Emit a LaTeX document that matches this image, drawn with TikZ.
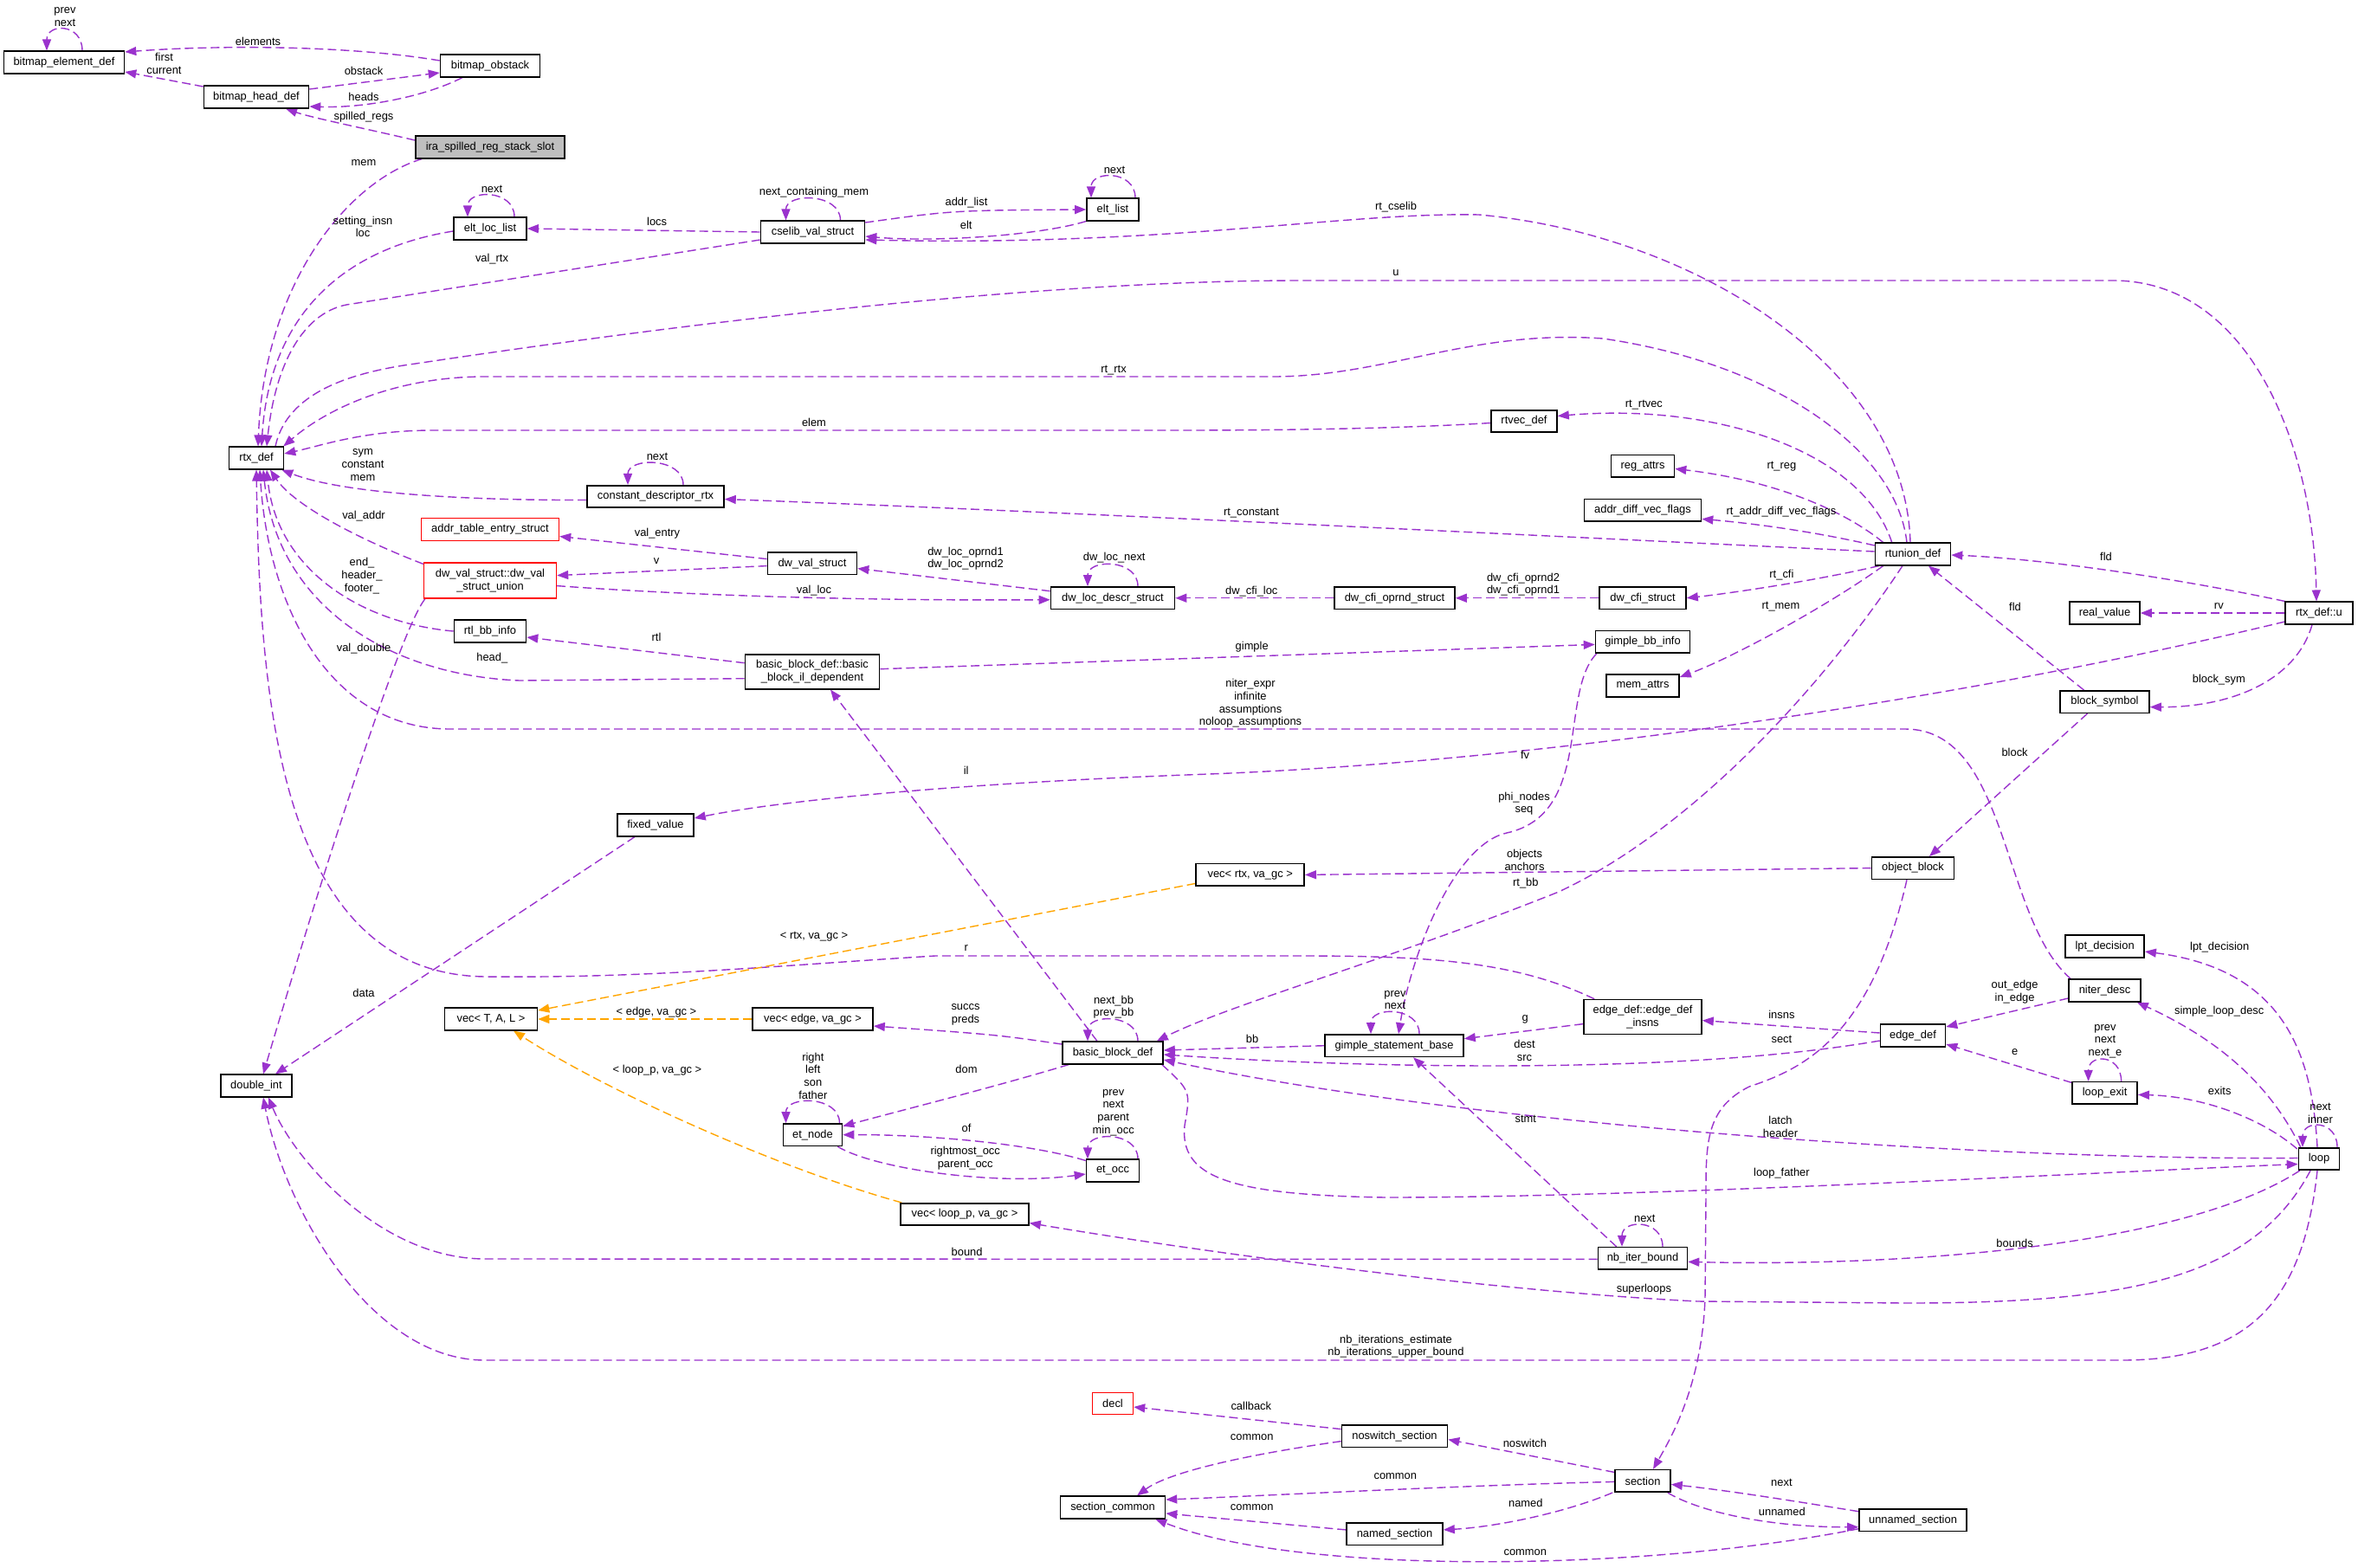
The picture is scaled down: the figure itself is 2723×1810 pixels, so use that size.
\documentclass[tikz,border=0pt]{standalone}
\usepackage{fontspec}
\setmainfont{Liberation Sans}
\usetikzlibrary{calc,arrows.meta}
\definecolor{purp}{HTML}{9A32CD}
\definecolor{orng}{HTML}{FFA500}
\definecolor{gfill}{HTML}{BFBFBF}
\pgfdeclarelayer{bg}
\pgfsetlayers{bg,main}
\begin{document}
\begin{tikzpicture}[x=1pt,y=-1pt,
  every node/.style={font=\fontsize{12.9}{14.6}\selectfont},
  box/.style={draw=black,line width=1.6pt,fill=white,minimum height=25.5pt,inner sep=0pt,align=center},
  redbox/.style={box,draw=red,line width=1.4pt},
  lbl/.style={inner sep=0pt,align=center},
  rel/.style={draw=purp,line width=1.4pt,dash pattern=on 10pt off 5pt,-{Triangle[length=13pt,width=10pt]}},
  tmpl/.style={draw=orng,line width=1.4pt,dash pattern=on 10pt off 5pt,-{Triangle[length=13pt,width=10pt]}}]
\useasboundingbox (0,0) rectangle (2723,1810);
% ---------------- nodes
\node[box,minimum width=139pt] (bee) at (74,72) {bitmap\_element\_def};
\node[box,minimum width=115pt] (bob) at (566,76) {bitmap\_obstack};
\node[box,minimum width=121pt] (bhd) at (296,112) {bitmap\_head\_def};
\node[box,fill=gfill,minimum width=172pt] (ira) at (566,170) {ira\_spilled\_reg\_stack\_slot};
\node[box,minimum width=84pt] (ell) at (566,264) {elt\_loc\_list};
\node[box,minimum width=63pt] (rtx) at (296,529) {rtx\_def};
\node[box,minimum width=158pt] (cdr) at (757,573.5) {constant\_descriptor\_rtx};
\node[redbox,minimum width=159pt] (ate) at (566,611.5) {addr\_table\_entry\_struct};
\node[redbox,minimum width=153pt,minimum height=41pt] (dvu) at (566,670.6) {dw\_val\_struct::dw\_val\\\_struct\_union};
\node[box,minimum width=83pt] (rbi) at (566,729) {rtl\_bb\_info};
\node[box,minimum width=107pt] (vtal) at (567,1177) {vec< T, A, L >};
\node[box,minimum width=82pt] (di) at (296,1254) {double\_int};
\node[box,minimum width=120pt] (csv) at (938.5,268) {cselib\_val\_struct};
\node[box,minimum width=60pt] (el) at (1285,242) {elt\_list};
\node[box,minimum width=103pt] (dvs) at (938,650.6) {dw\_val\_struct};
\node[box,minimum width=143pt] (dld) at (1285,690.7) {dw\_loc\_descr\_struct};
\node[box,minimum width=155pt,minimum height=40pt] (bbil) at (938,775.7) {basic\_block\_def::basic\\\_block\_il\_dependent};
\node[box,minimum width=88pt] (fv) at (757,953) {fixed\_value};
\node[box,minimum width=139pt] (ve) at (938.5,1177) {vec< edge, va\_gc >};
\node[box,minimum width=116pt] (bbd) at (1285,1216) {basic\_block\_def};
\node[box,minimum width=68pt] (etn) at (938.5,1310.7) {et\_node};
\node[box,minimum width=61pt] (eto) at (1285,1352) {et\_occ};
\node[box,minimum width=148pt] (vl) at (1114,1402.5) {vec< loop\_p, va\_gc >};
\node[redbox,minimum width=47pt] (decl) at (1285,1621) {decl};
\node[box,minimum width=121pt] (sc) at (1285,1741) {section\_common};
\node[box,minimum width=139pt] (dcos) at (1610.5,690.7) {dw\_cfi\_oprnd\_struct};
\node[box,minimum width=100pt] (dcs) at (1897,690.7) {dw\_cfi\_struct};
\node[box,minimum width=109pt] (gbi) at (1897,741.4) {gimple\_bb\_info};
\node[box,minimum width=84pt] (ma) at (1897,792) {mem\_attrs};
\node[box,minimum width=125pt] (vr) at (1443.7,1010.4) {vec< rtx, va\_gc >};
\node[box,minimum width=136pt,minimum height=40pt] (edi) at (1897,1174.6) {edge\_def::edge\_def\\\_insns};
\node[box,minimum width=160pt] (gsb) at (1610,1207.7) {gimple\_statement\_base};
\node[box,minimum width=76pt] (rtv) at (1760,486.5) {rtvec\_def};
\node[box,minimum width=73pt] (ra) at (1897,538.4) {reg\_attrs};
\node[box,minimum width=135pt] (adv) at (1897,589.4) {addr\_diff\_vec\_flags};
\node[box,minimum width=87pt] (rtu) at (2209,640) {rtunion\_def};
\node[box,minimum width=81pt] (rv) at (2430.5,708) {real\_value};
\node[box,minimum width=77.5pt] (rdu) at (2678,708) {rtx\_def::u};
\node[box,minimum width=103pt] (bs) at (2430.5,810.6) {block\_symbol};
\node[box,minimum width=95pt] (ob) at (2209,1002.6) {object\_block};
\node[box,minimum width=91pt] (lpt) at (2430.6,1093) {lpt\_decision};
\node[box,minimum width=83pt] (nd) at (2430.5,1144) {niter\_desc};
\node[box,minimum width=75pt] (ed) at (2209,1196) {edge\_def};
\node[box,minimum width=75pt] (le) at (2430.6,1262.4) {loop\_exit};
\node[box,minimum width=47pt] (loop) at (2678,1338.5) {loop};
\node[box,minimum width=124pt] (us) at (2209,1755.7) {unnamed\_section};
\node[box,minimum width=103pt] (nib) at (1897,1453.4) {nb\_iter\_bound};
\node[box,minimum width=122pt] (ns) at (1610.5,1658.6) {noswitch\_section};
\node[box,minimum width=64pt] (sec) at (1897,1710.4) {section};
\node[box,minimum width=111pt] (nms) at (1610.5,1771.9) {named\_section};
% ---------------- edges
\begin{pgfonlayer}{bg}
\fill[white] (0,0) rectangle (2723,1810);
% bitmap group
\draw[rel] ([xshift=21pt]bee.north) .. controls +(0,-32) and +(0,-32) .. ([xshift=-20pt]bee.north);
\draw[rel] ($(bob.west)+(0,-6)$) .. controls (400,52) and (250,52) .. ($(bee.east)+(0,-12)$);
\draw[rel] ($(bhd.west)+(0,-12)$) -- ($(bee.east)+(0,11)$);
\draw[rel] ($(bhd.east)+(0,-9)$) -- ($(bob.west)+(0,8)$);
\draw[rel] ($(bob.south)+(-32,0)$) .. controls (490,112) and (420,125) .. ($(bhd.east)+(0,11)$);
\draw[rel] ($(ira.west)+(0,-8)$) .. controls (420,148) and (360,136) .. ($(bhd.south)+(34,0)$);
\draw[rel] ($(ira.south west)+(8,0)$) .. controls (400,210) and (305,330) .. ($(rtx.north)+(2,0)$);
% elt_loc_list, cselib
\draw[rel] ([xshift=28pt]ell.north) .. controls +(0,-32) and +(0,-32) .. ([xshift=-26pt]ell.north);
\draw[rel] ($(ell.west)+(0,3)$) .. controls (380,290) and (310,380) .. ($(rtx.north)+(6,0)$);
\draw[rel] (csv.west) -- (ell.east);
\draw[rel] ($(csv.west)+(0,9)$) -- (400,352) .. controls (350,362) and (318,420) .. ($(rtx.north)+(12,0)$);
\draw[rel] ([xshift=32pt]csv.north) .. controls +(0,-32) and +(0,-32) .. ([xshift=-31pt]csv.north);
\draw[rel] ($(csv.east)+(0,-11)$) .. controls (1100,243) .. (el.west);
\draw[rel] ([xshift=26pt]el.north) .. controls +(0,-32) and +(0,-32) .. ([xshift=-25pt]el.north);
\draw[rel] (el.south west) .. controls (1200,272) and (1080,280) .. ($(csv.east)+(0,5)$);
% rtunion_def and rtx_def::u
\draw[rel] ($(rtu.north)+(-3,0)$) .. controls (2200,420) and (1950,270) .. (1708,248) .. controls (1550,245) and (1350,285) .. ($(csv.east)+(0,9)$);
\draw[rel] ($(rtx.north)+(22,0)$) .. controls (330,460) and (390,432) .. (480,420) .. controls (800,372) and (1200,324) .. (1500,324) -- (2440,324) .. controls (2600,324) and (2672,520) .. ($(rdu.north)+(-3,0)$);
\draw[rel] ($(rtu.north)+(-7,0)$) .. controls (2190,520) and (2050,420) .. (1851,391) .. controls (1700,380) and (1600,435) .. (1470,435) -- (560,435) .. controls (460,435) and (380,470) .. ($(rtx.north east)+(-1,0)$);
\draw[rel] ($(rtv.west)+(0,2)$) .. controls (1600,496) and (1450,497) .. (1360,497) -- (500,497) .. controls (420,497) and (370,515) .. ($(rtx.east)+(0,-5)$);
\draw[rel] ($(cdr.west)+(0,4)$) .. controls (560,578) and (400,572) .. ($(rtx.south east)+(-3,0)$);
\draw[rel] ([xshift=32pt]cdr.north) .. controls +(0,-32) and +(0,-32) .. ([xshift=-32pt]cdr.north);
\draw[rel] ($(rtu.west)+(0,-3)$) .. controls (1700,615) and (1200,590) .. ($(cdr.east)+(0,3)$);
\draw[rel] ($(rtu.north west)+(20,0)$) .. controls (2150,520) and (1980,465) .. ($(rtv.east)+(0,-6)$);
\draw[rel] ($(rtu.north west)+(10,0)$) .. controls (2130,590) and (2050,555) .. ($(ra.east)+(0,3)$);
\draw[rel] ($(rtu.west)+(0,-10)$) .. controls (2100,615) and (2030,605) .. ($(adv.east)+(0,10)$);
\draw[rel] ($(rtu.south west)+(5,0)$) .. controls (2100,670) and (2000,685) .. (dcs.east);
\draw[rel] ($(rtu.south west)+(10,0)$) .. controls (2110,700) and (2000,760) .. ($(ma.east)+(0,-10)$);
\draw[rel] ($(rtu.south)+(-12,0)$) .. controls (2100,800) and (1950,960) .. (1800,1030) .. controls (1600,1110) and (1420,1160) .. ($(bbd.north east)+(-8,0)$);
\draw[rel] (rdu.north west) .. controls (2500,665) and (2350,645) .. ($(rtu.east)+(0,1)$);
\draw[rel] (rdu.west) -- (rv.east);
\draw[rel] ($(rdu.south)+(-8,0)$) .. controls (2650,790) and (2570,817) .. ($(bs.east)+(0,6)$);
\draw[rel] ($(rdu.west)+(0,10)$) .. controls (2300,800) and (1800,880) .. (1380,894.6) .. controls (1100,905) and (900,925) .. ($(fv.east)+(0,-8)$);
\draw[rel] ($(bs.north)+(-24,0)$) -- ($(rtu.south)+(18,0)$);
\draw[rel] ($(bs.south)+(-20,0)$) -- ($(ob.north)+(19,0)$);
\draw[rel] (ob.west) -- (vr.east);
\draw[rel] ($(ob.south)+(-7,0)$) .. controls (2160,1200) and (2080,1235) .. (2020,1255) .. controls (1970,1280) and (1970,1320) .. (1970,1380) -- (1969,1500) .. controls (1965,1600) and (1930,1660) .. ($(sec.north)+(12,0)$);
% edge_def, loop area
\draw[rel] ($(ed.west)+(0,-3)$) -- ($(edi.east)+(0,4)$);
\draw[rel] ($(ed.west)+(0,6)$) .. controls (1950,1240) and (1600,1235) .. ($(bbd.east)+(0,2)$);
\draw[rel] ($(nd.west)+(0,9)$) -- ($(ed.east)+(0,-10)$);
\draw[rel] ($(le.west)+(0,-12)$) -- ($(ed.east)+(0,10)$);
\draw[rel] ([xshift=19pt]le.north) .. controls +(0,-32) and +(0,-32) .. ([xshift=-19pt]le.north);
\draw[rel] ($(loop.north west)+(-1,2)$) .. controls (2610,1290) and (2540,1266) .. ($(le.east)+(0,2)$);
\draw[rel] ($(loop.north west)+(3,0)$) .. controls (2620,1250) and (2560,1200) .. ($(nd.south east)+(-5,0)$);
\draw[rel] ($(loop.north)+(-2,0)$) .. controls (2670,1220) and (2640,1120) .. ($(lpt.east)+(0,6)$);
\draw[rel] ([xshift=21pt]loop.north) .. controls +(0,-32) and +(0,-32) .. ([xshift=-19pt]loop.north);
\draw[rel] ($(loop.west)+(0,-1)$) .. controls (2300,1340) and (1700,1300) .. ($(bbd.east)+(0,8)$);
\draw[rel] ($(bbd.south east)+(-2,0)$) .. controls (1375,1260) .. (1368,1300) .. controls (1362,1360) and (1420,1380) .. (1600,1383) .. controls (1900,1383) and (2400,1355) .. ($(loop.west)+(0,6)$);
\draw[rel] ($(loop.south west)+(2,0)$) .. controls (2520,1440) and (2200,1463) .. ($(nib.east)+(0,4)$);
\draw[rel] ($(loop.south)+(-10,0)$) .. controls (2600,1480) and (2450,1505) .. (2200,1505) -- (1960,1503) .. controls (1700,1490) and (1350,1440) .. ($(vl.east)+(0,10)$);
\draw[rel] ($(loop.south)+(-2,0)$) .. controls (2660,1500) and (2600,1571) .. (2450,1571) -- (560,1571) .. controls (430,1571) and (330,1400) .. ($(di.south)+(8,0)$);
\draw[rel] ($(nib.west)+(0,1)$) -- (560,1454) .. controls (440,1454) and (340,1340) .. ($(di.south)+(14,0)$);
\draw[rel] ([xshift=23pt]nib.north) .. controls +(0,-32) and +(0,-32) .. ([xshift=-24pt]nib.north);
\draw[rel] ($(nib.north west)+(22,0)$) -- ($(gsb.south)+(22,0)$);
% double_int, dw_ group
\draw[rel] ($(fv.south)+(-24,0)$) -- ($(di.north)+(22,0)$);
\draw[rel] ($(dvu.south west)+(2,0)$) .. controls (460,730) and (360,1050) .. ($(di.north)+(8,0)$);
\draw[rel] ($(dvu.north west)+(0,2)$) .. controls (420,625) and (340,585) .. ($(rtx.south)+(16,0)$);
\draw[rel] (rbi.west) .. controls (420,720) and (320,660) .. ($(rtx.south)+(12,0)$);
\draw[rel] ($(bbil.west)+(0,8)$) -- (600,786) .. controls (450,780) and (320,700) .. ($(rtx.south)+(8,0)$);
\draw[rel] ($(bbil.west)+(0,-10)$) -- ($(rbi.east)+(0,7)$);
\draw[rel] ($(bbd.north)+(-18,0)$) -- ($(bbil.south)+(21,0)$);
\draw[rel] ($(bbil.east)+(0,-3)$) -- ($(gbi.west)+(0,3)$);
\draw[rel] ($(gbi.south west)+(2,0)$) .. controls (1800,800) and (1840,940) .. (1740,962) .. controls (1680,975) and (1630,1100) .. ($(gsb.north)+(5,0)$);
\draw[rel] ([xshift=29pt]gsb.north) .. controls +(0,-32) and +(0,-32) .. ([xshift=-27pt]gsb.north);
\draw[rel] (gsb.west) -- ($(bbd.east)+(0,-3)$);
\draw[rel] ($(edi.west)+(0,8)$) -- ($(gsb.east)+(0,-8)$);
\draw[rel] ($(edi.north west)+(13,0)$) .. controls (1750,1110) and (1650,1104) .. (1500,1104) -- (1080,1104) .. controls (900,1115) and (750,1130) .. (560,1128) .. controls (320,1125) and (300,800) .. (rtx.south);
\draw[rel] ($(nd.north west)+(3,0)$) .. controls (2310,1060) and (2320,842) .. (2200,842) -- (520,842) .. controls (380,842) and (310,700) .. ($(rtx.south)+(4,0)$);
% vec templates
\draw[tmpl] ($(vr.west)+(0,10)$) -- ($(vtal.east)+(0,-10)$);
\draw[tmpl] (ve.west) -- (vtal.east);
\draw[tmpl] ($(vl.north west)+(2,0)$) .. controls (900,1350) and (700,1260) .. ($(vtal.south)+(26,0)$);
% basic_block_def, et
\draw[rel] ($(bbd.west)+(0,-10)$) .. controls (1150,1195) .. ($(ve.east)+(0,8)$);
\draw[rel] ([xshift=29pt]bbd.north) .. controls +(0,-32) and +(0,-32) .. ([xshift=-29pt]bbd.north);
\draw[rel] ($(bbd.south west)+(8,0)$) .. controls (1150,1255) and (1050,1280) .. ($(etn.east)+(0,-10)$);
\draw[rel] ([xshift=31pt]etn.north) .. controls +(0,-32) and +(0,-32) .. ([xshift=-31pt]etn.north);
\draw[rel] ($(eto.north west)+(0,2)$) .. controls (1180,1318) and (1050,1310) .. (etn.east);
\draw[rel] ($(etn.south east)+(-6,0)$) .. controls (1010,1350) and (1150,1370) .. ($(eto.west)+(0,4)$);
\draw[rel] ([xshift=29pt]eto.north) .. controls +(0,-32) and +(0,-32) .. ([xshift=-29pt]eto.north);
% dwarf
\draw[rel] ($(dld.west)+(0,-8)$) -- ($(dvs.east)+(0,6)$);
\draw[rel] ([xshift=29pt]dld.north) .. controls +(0,-32) and +(0,-32) .. ([xshift=-29pt]dld.north);
\draw[rel] ($(dvs.west)+(0,-5)$) -- ($(ate.east)+(0,8)$);
\draw[rel] ($(dvs.west)+(0,3)$) -- ($(dvu.east)+(0,-6)$);
\draw[rel] ($(dvu.east)+(0,6)$) .. controls (800,688) and (1000,694) .. ($(dld.west)+(0,2)$);
\draw[rel] (dcos.west) -- (dld.east);
\draw[rel] (dcs.west) -- (dcos.east);
% sections
\draw[rel] ($(sec.west)+(0,-10)$) -- ($(ns.east)+(0,4)$);
\draw[rel] ($(sec.south west)+(-2,0)$) .. controls (1800,1750) and (1720,1764) .. ($(nms.east)+(0,-5)$);
\draw[rel] ($(sec.west)+(0,1)$) .. controls (1700,1715) and (1450,1728) .. ($(sc.east)+(0,-9)$);
\draw[rel] ($(sec.south east)+(-4,0)$) .. controls (1960,1745) and (2040,1764) .. ($(us.west)+(0,8)$);
\draw[rel] ($(us.west)+(0,-10)$) .. controls (2080,1735) and (2000,1722) .. ($(sec.east)+(0,4)$);
\draw[rel] ($(us.west)+(0,10)$) .. controls (1900,1815) and (1500,1820) .. ($(sc.south east)+(-12,0)$);
\draw[rel] ($(nms.west)+(0,-5)$) -- ($(sc.east)+(0,7)$);
\draw[rel] ($(ns.west)+(0,6)$) .. controls (1440,1680) and (1350,1700) .. ($(sc.north)+(28,0)$);
\draw[rel] ($(ns.west)+(0,-8)$) -- ($(decl.east)+(0,4)$);
\end{pgfonlayer}
% ---------------- labels
\node[lbl] (l1) at (75,19.5) {prev\\next};
\node[lbl] (l2) at (298,47.5) {elements};
\node[lbl] (l3) at (189.5,73.3) {first\\current};
\node[lbl] (l4) at (420,82) {obstack};
\node[lbl] (l5) at (420,111.5) {heads};
\node[lbl] (l6) at (420,135.6) {spilled\_regs};
\node[lbl] (l7) at (420,188) {mem};
\node[lbl] (l8) at (568,218.7) {next};
\node[lbl] (l9) at (419,261.7) {setting\_insn\\loc};
\node[lbl] (l10) at (568,299.3) {val\_rtx};
\node[lbl] (l11) at (419,537) {sym\\constant\\mem};
\node[lbl] (l12) at (420,596) {val\_addr};
\node[lbl] (l13) at (940,222.6) {next\_containing\_mem};
\node[lbl] (l14) at (758.6,255.4) {locs};
\node[lbl] (l15) at (1116,234.5) {addr\_list};
\node[lbl] (l16) at (1287,196.5) {next};
\node[lbl] (l17) at (1115.7,260.2) {elt};
\node[lbl] (l18) at (1286,427.4) {rt\_rtx};
\node[lbl] (l19) at (940,488.3) {elem};
\node[lbl] (l20) at (759,527.5) {next};
\node[lbl] (l21) at (1612,239.6) {rt\_cselib};
\node[lbl] (l22) at (1612,315.2) {u};
\node[lbl] (l23) at (1898.4,467.8) {rt\_rtvec};
\node[lbl] (l24) at (2057.4,538.6) {rt\_reg};
\node[lbl] (l25) at (1445,592.3) {rt\_constant};
\node[lbl] (l26) at (2057,591.5) {rt\_addr\_diff\_vec\_flags};
\node[lbl] (l27) at (759,615.8) {val\_entry};
\node[lbl] (l28) at (758,648.2) {v};
\node[lbl] (l29) at (1115,645) {dw\_loc\_oprnd1\\dw\_loc\_oprnd2};
\node[lbl] (l30) at (1286.7,644.3) {dw\_loc\_next};
\node[lbl] (l31) at (940,682.2) {val\_loc};
\node[lbl] (l32) at (758,735.6) {rtl};
\node[lbl] (l33) at (1115.7,890.2) {il};
\node[lbl] (l34) at (940,1081.2) {< rtx, va\_gc >};
\node[lbl] (l35) at (1115.7,1095.5) {r};
\node[lbl] (l36) at (758,1169.4) {< edge, va\_gc >};
\node[lbl] (l37) at (1115,1172) {succs\\preds};
\node[lbl] (l38) at (1286,1163) {next\_bb\\prev\_bb};
\node[lbl] (l39) at (418,665) {end\_\\header\_\\footer\_};
\node[lbl] (l40) at (420,748.7) {val\_double};
\node[lbl] (l41) at (568.3,760.5) {head\_};
\node[lbl] (l42) at (420,1146.5) {data};
\node[lbl] (l43) at (1445.3,682.6) {dw\_cfi\_loc};
\node[lbl] (l44) at (1759,675) {dw\_cfi\_oprnd2\\dw\_cfi\_oprnd1};
\node[lbl] (l45) at (2057.4,664.5) {rt\_cfi};
\node[lbl] (l46) at (2056.5,700.8) {rt\_mem};
\node[lbl] (l47) at (1445.7,746.7) {gimple};
\node[lbl] (l48) at (1444,812.5) {niter\_expr\\infinite\\assumptions\\noloop\_assumptions};
\node[lbl] (l49) at (1761,872) {fv};
\node[lbl] (l50) at (1760,928) {phi\_nodes\\seq};
\node[lbl] (l51) at (1760.5,993.5) {objects\\anchors};
\node[lbl] (l52) at (1761.8,1020.3) {rt\_bb};
\node[lbl] (l53) at (1611,1155) {prev\\next};
\node[lbl] (l54) at (1761.3,1177.7) {g};
\node[lbl] (l55) at (1446,1200.2) {bb};
\node[lbl] (l56) at (1760.5,1213.5) {dest\\src};
\node[lbl] (l57) at (2432,642.7) {fld};
\node[lbl] (l58) at (2327,700.4) {fld};
\node[lbl] (l59) at (2562.3,700) {rv};
\node[lbl] (l60) at (2562.3,784.7) {block\_sym};
\node[lbl] (l61) at (2326.6,868.5) {block};
\node[lbl] (l62) at (2563.2,1094.3) {lpt\_decision};
\node[lbl] (l63) at (2326.6,1145.7) {out\_edge\\in\_edge};
\node[lbl] (l64) at (2562.7,1167.8) {simple\_loop\_desc};
\node[lbl] (l65) at (2057.4,1171.8) {insns};
\node[lbl] (l66) at (2057.4,1200.6) {sect};
\node[lbl] (l67) at (2431,1202.6) {prev\\next\\next\_e};
\node[lbl] (l68) at (2326.6,1214.9) {e};
\node[lbl] (l69) at (2563.2,1259.6) {exits};
\node[lbl] (l70) at (2679.5,1285.7) {next\\inner};
\node[lbl] (l71) at (2056,1301.5) {latch\\header};
\node[lbl] (l72) at (2057.4,1355.3) {loop\_father};
\node[lbl] (l73) at (2326.6,1435.6) {bounds};
\node[lbl] (l74) at (2057.4,1712.7) {next};
\node[lbl] (l75) at (2057.8,1746.3) {unnamed};
\node[lbl] (l76) at (759,1236.3) {< loop\_p, va\_gc >};
\node[lbl] (l77) at (938.8,1242.5) {right\\left\\son\\father};
\node[lbl] (l78) at (1116,1234.7) {dom};
\node[lbl] (l79) at (1285.7,1285) {prev\\next\\parent\\min\_occ};
\node[lbl] (l80) at (1116,1302.7) {of};
\node[lbl] (l81) at (1114.7,1337.7) {rightmost\_occ\\parent\_occ};
\node[lbl] (l82) at (1116.6,1446.2) {bound};
\node[lbl] (l83) at (1761.8,1292.8) {stmt};
\node[lbl] (l84) at (1899.3,1407.5) {next};
\node[lbl] (l85) at (1898.4,1488.9) {superloops};
\node[lbl] (l86) at (1612,1555.2) {nb\_iterations\_estimate\\nb\_iterations\_upper\_bound};
\node[lbl] (l87) at (1444.8,1623.4) {callback};
\node[lbl] (l88) at (1445.7,1660.5) {common};
\node[lbl] (l89) at (1760.9,1666.5) {noswitch};
\node[lbl] (l90) at (1611.3,1704.8) {common};
\node[lbl] (l91) at (1761.8,1735.7) {named};
\node[lbl] (l92) at (1445.7,1740.8) {common};
\node[lbl] (l93) at (1761.3,1793) {common};
\end{tikzpicture}
\end{document}
